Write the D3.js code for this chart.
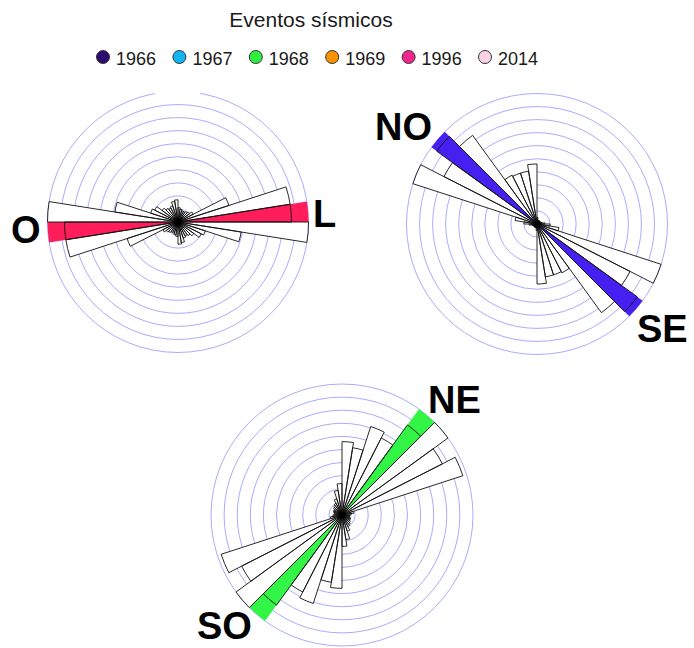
<!DOCTYPE html>
<html><head><meta charset="utf-8">
<script src="https://cdn.jsdelivr.net/npm/d3@7"></script>
<style>body{margin:0;background:#fff}svg{display:block}</style>
</head><body>
<svg id="c" width="694" height="648"></svg>
<script>
// ---- data ----
const legendTitle = "Eventos sísmicos";
const legendYears = ["1966","1967","1968","1969","1996","2014"];
const legendColors = ["#2E0A73","#12B5F2","#30EE40","#FA9205","#F0268C","#FCD3E3"];
const binWidthDeg = 9;               // 20 axial bins over 0-180 (mirrored to 180-360)
// frequency (rings 0..10) for bins 0-9, 9-18, ..., 171-180 degrees azimuth
const countsOL   = [1.1,1.0,0.9,0.9,1.0,1.1,1.3,4.1,8.7,8.7,10,4.9,2.2,2.0,1.5,1.3,1.2,1.3,1.6,1.7];
const countsNOSE = [0.5,0.3,0.3,0.3,0.3,0.3,0.3,0.3,0.4,0.6,1.0,1.7,10,8.0,9.5,8.4,4.2,4.1,4.1,4.6];
const countsNESO = [5.6,5.2,7.1,6.6,8.5,10,8.6,9.7,0.9,0.7,0.6,0.6,0.7,0.7,0.8,0.9,1.0,1.3,1.9,2.4];
const highlightBins = [9, 14, 4];
const highlightColors = ["#FF1E5A","#4620F0","#33F546"];
const dirLabels = [["O","L"],["NO","SE"],["NE","SO"]];
const ringValues = [1,2,3,4,5,6,7,8,9,10];

// ---- layout ----
const svg = d3.select("#c");
const font = "'Liberation Sans', Arial, sans-serif";
const rad = d => d * Math.PI / 180;

// legend
svg.append("text").attr("x", 311).attr("y", 27).attr("text-anchor","middle")
  .attr("font-family", font).attr("font-size", 21).attr("fill","#1a1a1a").text(legendTitle);
const legX = d3.scalePoint().domain(legendYears).range([103, 485]);
const lg = svg.append("g").selectAll("g").data(legendYears).join("g")
  .attr("transform", d => `translate(${legX(d)},57)`);
lg.append("circle").attr("r", 6.5).attr("fill", (d,i) => legendColors[i])
  .attr("stroke", "#333").attr("stroke-width", 1);
lg.append("text").attr("x", 13).attr("y", 7.5).attr("font-family", font)
  .attr("font-size", 18).attr("fill", "#1a1a1a").text(d => d);

function drawRose(counts, hiBin, hiColor, cx, cy, R) {
  const g = svg.append("g").attr("transform", `translate(${cx},${cy})`);
  const r = d3.scaleLinear().domain([0, 10]).range([0, R]);
  g.selectAll("circle.ring").data(ringValues).join("circle")
    .attr("class","ring").attr("r", d => r(d))
    .attr("fill","none").attr("stroke","#ABABFF").attr("stroke-width",1);
  const bins = [];
  counts.forEach((v, i) => {
    bins.push({a0: i * binWidthDeg, v, i});
    bins.push({a0: i * binWidthDeg + 180, v, i});
  });
  const arc = d3.arc().innerRadius(0)
    .outerRadius(d => r(d.v))
    .startAngle(d => rad(d.a0)).endAngle(d => rad(d.a0 + binWidthDeg));
  g.selectAll("path.fillw").data(bins).join("path").attr("class","fillw")
    .attr("d", arc).attr("fill", "#fff").attr("stroke","none");
  const hi = bins.filter(d => d.i === hiBin).map(d => ({a0: d.a0, v: 10}));
  g.selectAll("path.hi").data(hi).join("path").attr("class","hi")
    .attr("d", arc).attr("fill", hiColor).attr("stroke","none");
  g.selectAll("path.out").data(bins).join("path").attr("class","out")
    .attr("d", arc).attr("fill", "none").attr("stroke","#111").attr("stroke-width",0.9);
  g.append("circle").attr("r", 3.5).attr("fill", "#000");
  return g;
}

drawRose(countsOL, highlightBins[0], highlightColors[0], 178, 222, 130.5);
// small gap at top of first rose's outer ring
svg.append("rect").attr("x",155).attr("y",86).attr("width",45).attr("height",10).attr("fill","#fff");
drawRose(countsNOSE, highlightBins[1], highlightColors[1], 537, 224, 130.5);
drawRose(countsNESO, highlightBins[2], highlightColors[2], 342, 515, 131);

const labelPos = [
  [[11,243],[313,227]],
  [[375,140],[637,342]],
  [[428,413],[197,639]]
];
dirLabels.forEach((pair, k) => {
  pair.forEach((t, j) => {
    svg.append("text").attr("x", labelPos[k][j][0]).attr("y", labelPos[k][j][1])
      .attr("font-family", font).attr("font-weight","bold").attr("font-size", 38)
      .attr("fill","#000").text(t);
  });
});
</script>
</body></html>
